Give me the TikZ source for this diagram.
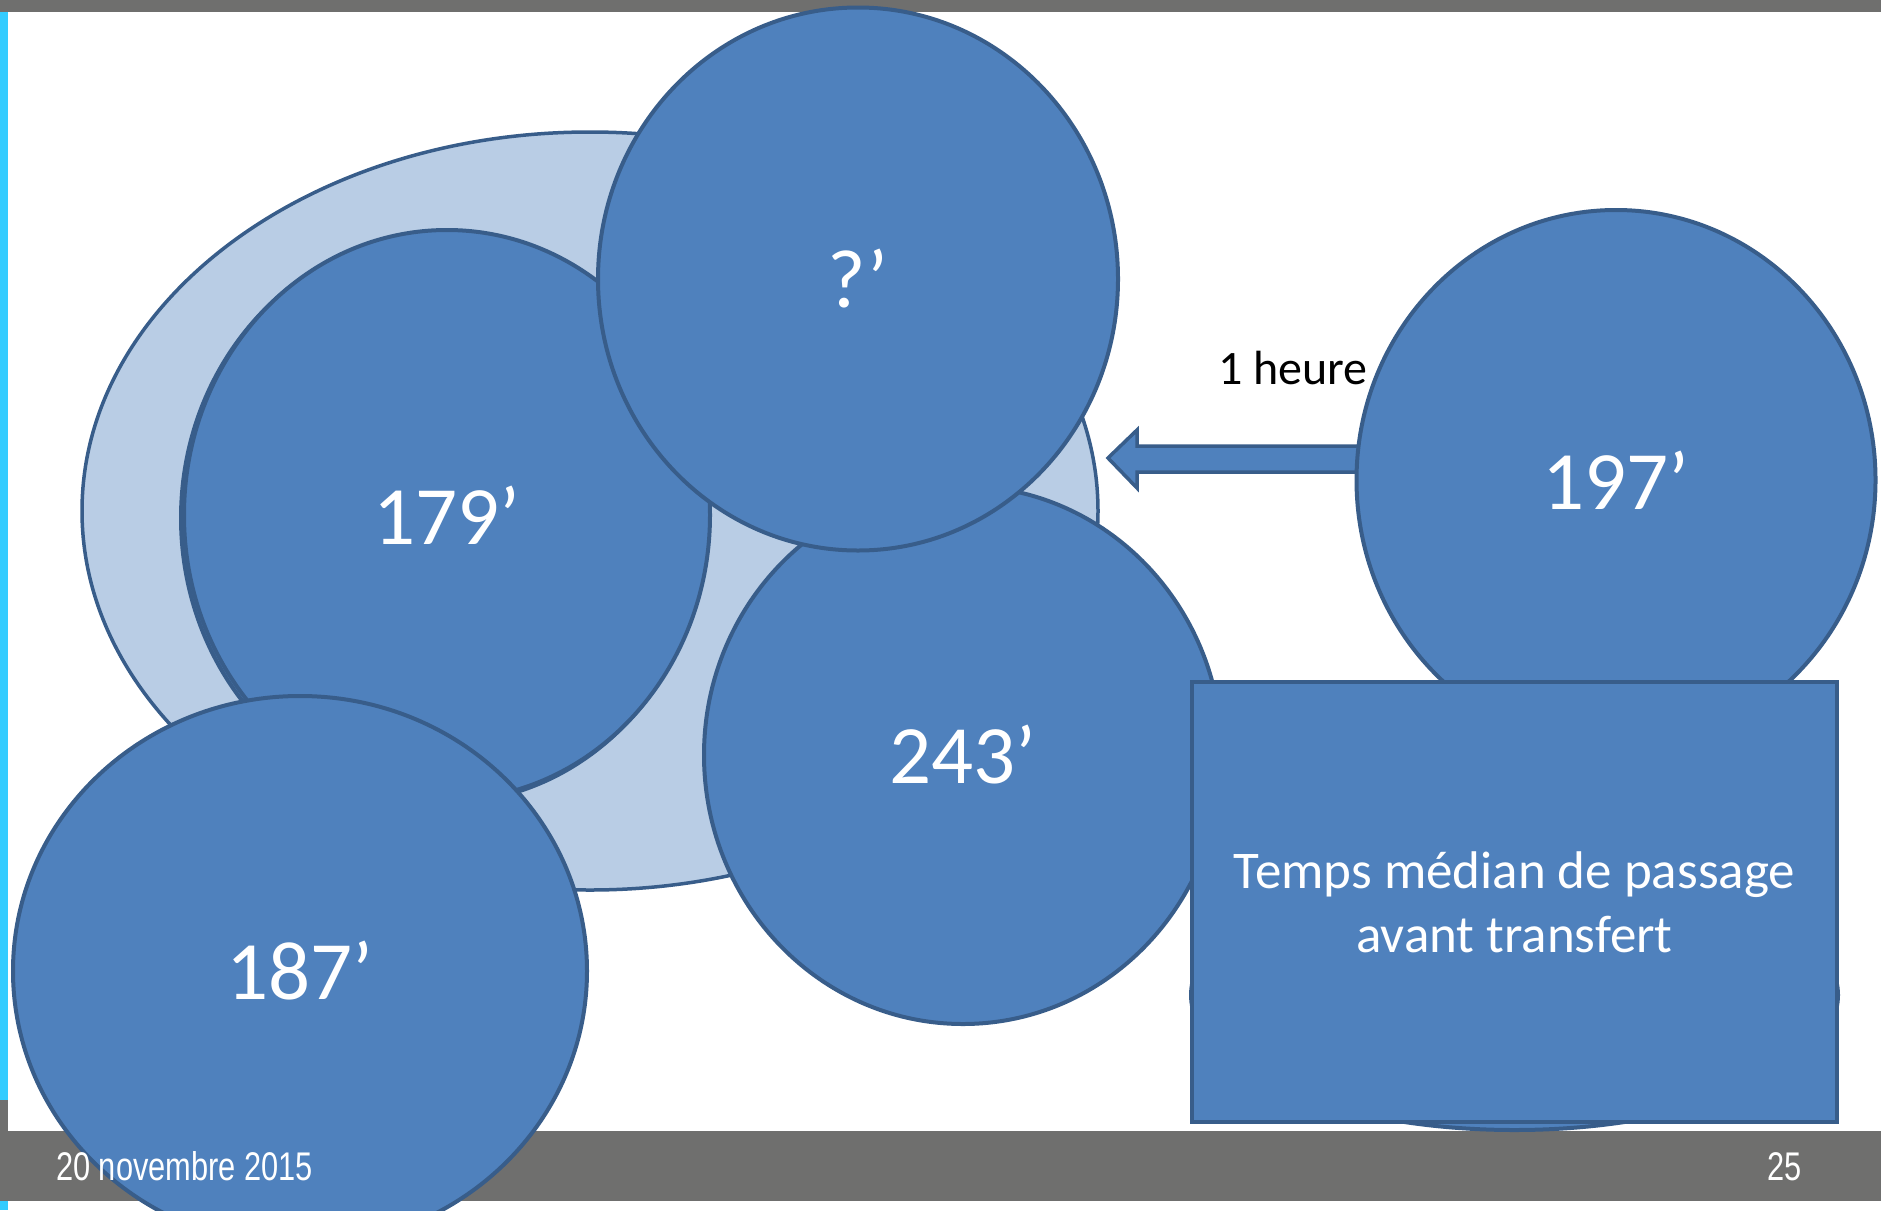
\documentclass[tikz,border=0pt]{standalone}
\usepackage{fontspec}
\setmainfont{Carlito}
\newfontfamily\footfont[FakeStretch=0.77]{Liberation Sans}
\usetikzlibrary{shapes.geometric}
\definecolor{barGray}{HTML}{6F6F6E}
\definecolor{edgeCyan}{HTML}{33CCFF}
\definecolor{blobFill}{HTML}{4F81BD}
\definecolor{blobLine}{HTML}{385D8A}
\definecolor{paleFill}{HTML}{B9CDE5}
\tikzset{
  blob/.style={ellipse, draw=blobLine, fill=blobFill, line width=4pt,
    inner sep=0pt, text=white, font=\fontsize{83}{100}\selectfont},
  pale/.style={ellipse, draw=blobLine, fill=paleFill, line width=3.5pt, inner sep=0pt},
  captionbox/.style={rectangle, draw=blobLine, fill=blobFill, line width=4pt,
    inner sep=0pt, text=white, align=center, font=\fontsize{53}{64}\selectfont},
  blockarrow/.style={draw=blobLine, fill=blobFill, line width=3.5pt, line join=miter},
  foot/.style={text=white, inner sep=0pt, font=\footfont\fontsize{40}{48}\selectfont},
  note/.style={text=black, inner sep=0pt, font=\fontsize{48}{58}\selectfont}
}
\begin{document}
\begin{tikzpicture}[x=1pt,y=-1pt]
\useasboundingbox (0,0) rectangle (1881,1210);
\clip (0,0) rectangle (1881,1210);
% slide frame: white page, cyan left edge, grey top and bottom bars
\fill[white] (0,0) rectangle (1881,1210);
\fill[edgeCyan] (0,0) rectangle (8,1210);
\fill[barGray] (0,0) rectangle (1881,12);
\fill[barGray] (0,1100) rectangle (8,1131);
\fill[barGray] (0,1131) rectangle (1881,1201);

% pale background ellipse grouping the sites
\node[pale, minimum width=1016pt, minimum height=758pt] (cloud) at (590,511) {};

% site circles
\node[blob, minimum width=526pt, minimum height=570pt] (c179s) at (444,518) {};
\node[blob, minimum width=526pt, minimum height=570pt] (c179) at (447,515) {179’};
\node[blob, minimum width=518pt, minimum height=538pt] (c243) at (963,755) {243’};
\node[blob, minimum width=520pt, minimum height=543pt] (cq) at (858,279) {?’};
\node[blob, minimum width=574pt, minimum height=550pt] (c187) at (300,971) {187’};

% block arrow pointing from the right-hand site towards the group
\coordinate (tip) at (1108,458);
\draw[blockarrow] (tip) -- (1137,430) -- (1137,446) -- (1450,446)
  -- (1450,472) -- (1137,472) -- (1137,488) -- cycle;
\node[note, anchor=base] (hour) at (1293,384) {1 heure};

\node[blob, minimum width=519pt, minimum height=540pt] (c197) at (1616,480) {197’};

% caption box with its backing ellipse
\node[blob, minimum width=647pt, minimum height=270pt] (under) at (1514.5,995) {};
\node[captionbox, minimum width=645pt, minimum height=440pt] (caption) at (1514.5,902)
  {Temps médian de passage\\avant transfert};

% footer
\node[foot, anchor=base west] (date) at (56,1180) {20 novembre 2015};
\node[foot, anchor=base east] (page) at (1802,1180) {25};
\end{tikzpicture}
\end{document}
